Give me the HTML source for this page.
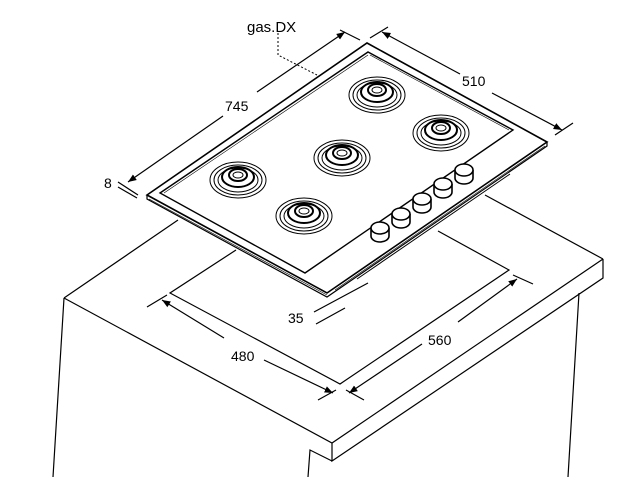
<!DOCTYPE html>
<html><head><style>html,body{margin:0;padding:0;background:#fff;}svg{display:block}</style></head>
<body>
<svg width="621" height="486" viewBox="0 0 621 486" xmlns="http://www.w3.org/2000/svg" fill="none" stroke="#000" stroke-width="1.2" font-family="'Liberation Sans', sans-serif">
<defs>
<marker id="a" viewBox="0 0 10 10" refX="10" refY="5" markerWidth="7" markerHeight="7" orient="auto-start-reverse"><path d="M0,1 L10,5 L0,9 Z" fill="#000" stroke="none"/></marker>
</defs>
<!-- countertop -->
<path d="M64,298 L332,443 L603,259 M332,443 L332,461 L603,278 L603,259"/>
<path d="M64,298 L178,220 M603,259 L485,195"/>
<path d="M64,298 L53,477 M579,293 L568,477 M308,477 L310,450 L332,461"/>
<!-- cutout -->
<path d="M236,250 L170,293 L340,384 L509,270 L438,231"/>
<!-- dim 480 -->
<path d="M147,307 L167,295 M318,400 L336,390"/>
<path d="M162,300 L224,338" marker-start="url(#a)"/>
<path d="M264,360 L333,393" marker-end="url(#a)"/>
<text x="231" y="361" font-size="14" fill="#000" stroke="none">480</text>
<!-- dim 560 -->
<path d="M346,390 L364,400 M513,275 L533,284"/>
<path d="M349,393 L422,344" marker-start="url(#a)"/>
<path d="M458,322 L517,279" marker-end="url(#a)"/>
<text x="428" y="345" font-size="14" fill="#000" stroke="none">560</text>
<!-- dim 35 -->
<path d="M314,312 L368,283 M316,324 L345,308"/>
<text x="288" y="323" font-size="14" fill="#000" stroke="none">35</text>
<!-- hob -->
<path d="M147,195 L367,43 L547,142 L327,293 Z" fill="#fff" stroke-width="1.6"/>
<path d="M147,195 L147,199 L327,297 L547,146 L547,142" stroke-width="1.2"/>
<path d="M149,199 L327,295" stroke-width="0.6"/>
<path d="M160,193 L368,52 L513,130 L305,273 Z" stroke-width="1.4"/>
<path d="M164,193 L368,55" stroke-width="0.6"/>
<path d="M370,55 L509,130" stroke-width="0.6"/>
<path d="M335,290 L545,146" stroke-width="0.6"/>
<path d="M357,279 L510,174" stroke-width="1"/>
<!-- burners -->
<g stroke-width="1">
<g transform="translate(377,95)"><ellipse rx="28" ry="18"/><ellipse rx="24" ry="15"/><ellipse rx="20" ry="12"/><ellipse cy="-3" rx="16" ry="10" stroke-width="2"/><ellipse cy="-5" rx="9" ry="6" stroke-width="2"/><ellipse cy="-5" rx="5" ry="3"/></g>
<g transform="translate(441,133)"><ellipse rx="28" ry="18"/><ellipse rx="24" ry="15"/><ellipse rx="20" ry="12"/><ellipse cy="-3" rx="16" ry="10" stroke-width="2"/><ellipse cy="-5" rx="9" ry="6" stroke-width="2"/><ellipse cy="-5" rx="5" ry="3"/></g>
<g transform="translate(342,158)"><ellipse rx="28" ry="18"/><ellipse rx="24" ry="15"/><ellipse rx="20" ry="12"/><ellipse cy="-3" rx="16" ry="10" stroke-width="2"/><ellipse cy="-5" rx="9" ry="6" stroke-width="2"/><ellipse cy="-5" rx="5" ry="3"/></g>
<g transform="translate(238,180)"><ellipse rx="28" ry="18"/><ellipse rx="24" ry="15"/><ellipse rx="20" ry="12"/><ellipse cy="-3" rx="16" ry="10" stroke-width="2"/><ellipse cy="-5" rx="9" ry="6" stroke-width="2"/><ellipse cy="-5" rx="5" ry="3"/></g>
<g transform="translate(304,216)"><ellipse rx="28" ry="18"/><ellipse rx="24" ry="15"/><ellipse rx="20" ry="12"/><ellipse cy="-3" rx="16" ry="10" stroke-width="2"/><ellipse cy="-5" rx="9" ry="6" stroke-width="2"/><ellipse cy="-5" rx="5" ry="3"/></g>
</g>
<!-- knobs -->
<g stroke-width="1.6" fill="#fff">
<g transform="translate(380,232)"><path d="M-9,-4 L-9,4 A9,6 0 0 0 9,4 L9,-4"/><ellipse cy="-4" rx="9" ry="6"/></g>
<g transform="translate(401,218)"><path d="M-9,-4 L-9,4 A9,6 0 0 0 9,4 L9,-4"/><ellipse cy="-4" rx="9" ry="6"/></g>
<g transform="translate(422,203)"><path d="M-9,-4 L-9,4 A9,6 0 0 0 9,4 L9,-4"/><ellipse cy="-4" rx="9" ry="6"/></g>
<g transform="translate(443,188)"><path d="M-9,-4 L-9,4 A9,6 0 0 0 9,4 L9,-4"/><ellipse cy="-4" rx="9" ry="6"/></g>
<g transform="translate(464,174)"><path d="M-9,-4 L-9,4 A9,6 0 0 0 9,4 L9,-4"/><ellipse cy="-4" rx="9" ry="6"/></g>
</g>
<!-- dim 745 / 8 -->
<path d="M118,182 L138,195 M118,187 L137,198 M340,30 L360,40"/>
<path d="M128,182 L223,116" marker-start="url(#a)"/>
<path d="M257,92 L345,32" marker-end="url(#a)"/>
<text x="225" y="111" font-size="14" fill="#000" stroke="none">745</text>
<text x="104" y="188" font-size="14" fill="#000" stroke="none">8</text>
<!-- dim 510 -->
<path d="M370,38 L388,27 M555,135 L573,123"/>
<path d="M382,32 L460,74" marker-start="url(#a)"/>
<path d="M492,93 L562,130" marker-end="url(#a)"/>
<text x="462" y="86" font-size="14" fill="#000" stroke="none">510</text>
<!-- gas DX -->
<text x="247" y="32" font-size="15" fill="#000" stroke="none">gas.DX</text>
<path d="M278,33 L278,55 L317,75" stroke-dasharray="2,2" stroke-width="1"/>
</svg>
</body></html>
